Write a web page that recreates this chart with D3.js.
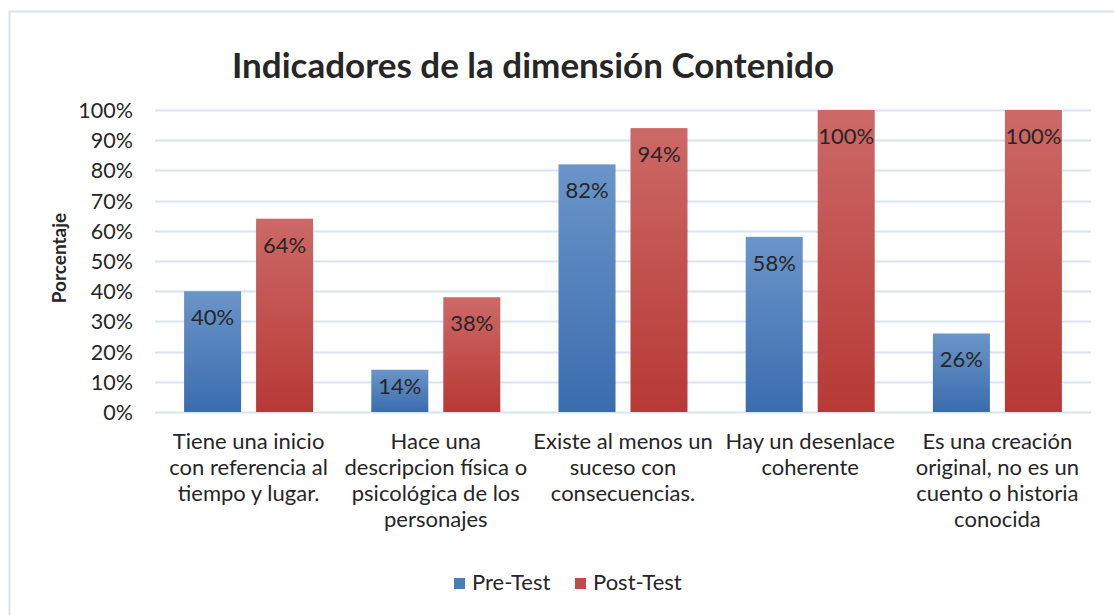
<!DOCTYPE html>
<html lang="es">
<head>
    <meta charset="UTF-8">
    <title>Indicadores de la dimensión Contenido</title>
    <script src="https://cdn.jsdelivr.net/npm/d3@7"></script>
    <style>
        body { margin: 0; background: #fff; }
        text { font-family: Lato, "Open Sans", sans-serif; fill: #262626; }
    </style>
</head>
<body>
<div id="chart"></div>
<script>
// data
const categories = [
    ["Tiene una inicio", "con referencia al", "tiempo y lugar."],
    ["Hace una", "descripcion física o", "psicológica de los", "personajes"],
    ["Existe al menos un", "suceso con", "consecuencias."],
    ["Hay un desenlace", "coherente"],
    ["Es una creación", "original, no es un", "cuento o historia", "conocida"]
];
const preTest = [40, 14, 82, 58, 26];
const postTest = [64, 38, 94, 100, 100];
const seriesNames = ["Pre-Test", "Post-Test"];
const yTicks = [0, 10, 20, 30, 40, 50, 60, 70, 80, 90, 100];

const width = 1114, height = 615;
const margin = { top: 110, right: 23, bottom: 203, left: 155 };

const svg = d3.select("#chart").append("svg")
    .attr("width", width)
    .attr("height", height);

// outer chart border
svg.append("rect")
    .attr("x", 9.5).attr("y", 11.5)
    .attr("width", 1120).attr("height", 620)
    .attr("fill", "none")
    .attr("stroke", "#d9e3f2")
    .attr("stroke-width", 2);

const defs = svg.append("defs");
const gradBlue = defs.append("linearGradient").attr("id", "gBlue")
    .attr("x1", 0).attr("y1", 0).attr("x2", 0).attr("y2", 1);
gradBlue.append("stop").attr("offset", "0%").attr("stop-color", "#6b95c9");
gradBlue.append("stop").attr("offset", "100%").attr("stop-color", "#3a6cae");
const gradRed = defs.append("linearGradient").attr("id", "gRed")
    .attr("x1", 0).attr("y1", 0).attr("x2", 0).attr("y2", 1);
gradRed.append("stop").attr("offset", "0%").attr("stop-color", "#cc6967");
gradRed.append("stop").attr("offset", "100%").attr("stop-color", "#b73935");

const x = d3.scaleBand()
    .domain(d3.range(categories.length))
    .range([margin.left, width - margin.right]);

// two bars per group, 57px wide with a 15px gap
const groupW = 129;
const x1 = d3.scaleBand()
    .domain([0, 1])
    .range([(x.bandwidth() - groupW) / 2, (x.bandwidth() + groupW) / 2])
    .paddingInner(0.208);

const y = d3.scaleLinear()
    .domain([0, 100])
    .range([height - margin.bottom, margin.top]);

// gridlines
svg.append("g")
    .selectAll("line")
    .data(yTicks)
    .join("line")
    .attr("x1", margin.left)
    .attr("x2", width - margin.right)
    .attr("y1", d => Math.round(y(d)) + 0.5)
    .attr("y2", d => Math.round(y(d)) + 0.5)
    .attr("stroke", "#d9e3f2")
    .attr("stroke-width", 2);

// y axis labels
const yAxis = d3.axisLeft(y).tickValues(yTicks).tickFormat(d => d + "%").tickSize(0).tickPadding(22);
const yg = svg.append("g")
    .attr("transform", `translate(${margin.left}, 0)`)
    .call(yAxis);
yg.select(".domain").remove();
yg.selectAll("text")
    .style("font-size", "21.5px")
    .attr("fill", "#262626")
    .attr("dy", "0.35em");

// bars
const groups = svg.append("g")
    .selectAll("g")
    .data(categories.map((c, i) => i))
    .join("g")
    .attr("transform", i => `translate(${x(i)}, 0)`);

const vals = i => [preTest[i], postTest[i]];

groups.selectAll("rect")
    .data(i => vals(i).map((v, s) => ({ v, s })))
    .join("rect")
    .attr("x", d => x1(d.s))
    .attr("y", d => y(d.v))
    .attr("width", x1.bandwidth())
    .attr("height", d => y(0) - y(d.v))
    .attr("fill", d => d.s === 0 ? "url(#gBlue)" : "url(#gRed)");

// labels at inside end, kept inside short bars
groups.selectAll("text.lbl")
    .data(i => vals(i).map((v, s) => ({ v, s })))
    .join("text")
    .attr("class", "lbl")
    .attr("x", d => x1(d.s) + x1.bandwidth() / 2)
    .attr("y", d => Math.min(y(d.v) + 34, y(0) - 18))
    .attr("text-anchor", "middle")
    .style("font-size", "22px")
    .attr("fill", "#1a1a1a")
    .text(d => d.v + "%");

// category labels
groups.append("text")
    .attr("x", x.bandwidth() / 2)
    .attr("y", 449)
    .attr("text-anchor", "middle")
    .style("font-size", "22px")
    .selectAll("tspan")
    .data(i => categories[i])
    .join("tspan")
    .attr("x", x.bandwidth() / 2)
    .attr("dy", (d, k) => k === 0 ? 0 : 26)
    .text(d => d);

// title
svg.append("text")
    .attr("x", 533)
    .attr("y", 78)
    .attr("text-anchor", "middle")
    .style("font-size", "35px")
    .style("font-weight", "bold")
    .attr("fill", "#000")
    .text("Indicadores de la dimensión Contenido");

// y axis title
svg.append("text")
    .attr("transform", "rotate(-90)")
    .attr("x", -258)
    .attr("y", 66)
    .attr("text-anchor", "middle")
    .style("font-size", "19px")
    .style("font-weight", "bold")
    .attr("fill", "#000")
    .text("Porcentaje");

// legend
const legendX = [454, 575];
const legend = svg.append("g")
    .selectAll("g")
    .data(seriesNames)
    .join("g")
    .attr("transform", (d, i) => `translate(${legendX[i]}, 578)`);
legend.append("rect")
    .attr("width", 11).attr("height", 11)
    .attr("fill", (d, i) => i === 0 ? "#4a7ebb" : "#be4b48");
legend.append("text")
    .attr("x", 18)
    .attr("y", 12)
    .style("font-size", "22px")
    .text(d => d);
</script>
</body>
</html>
